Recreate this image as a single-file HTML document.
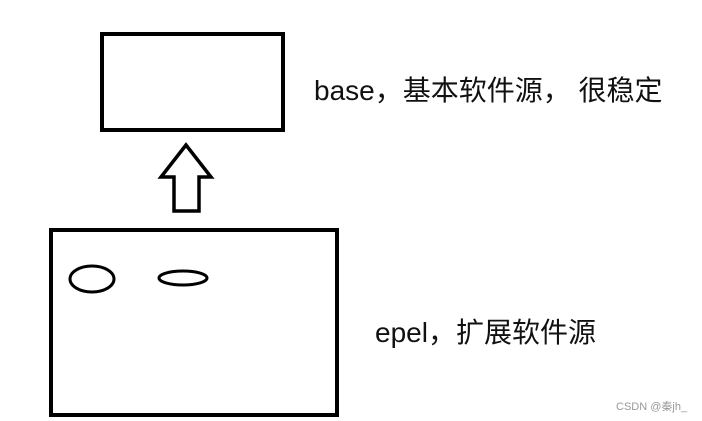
<!DOCTYPE html>
<html><head><meta charset="utf-8"><style>
html,body{margin:0;padding:0;background:#fff;}
body{width:702px;height:421px;overflow:hidden;position:relative;}
.t{position:absolute;font-family:"Liberation Sans","Noto Sans CJK SC",sans-serif;color:#111;white-space:nowrap;}
</style></head><body>
<svg width="702" height="421" style="position:absolute;left:0;top:0">
<rect x="102" y="34" width="181" height="96" fill="none" stroke="#000" stroke-width="4"/>
<polygon points="186,145 161,177 174,177 174,211 199,211 199,177 211,177" fill="none" stroke="#000" stroke-width="3.5" stroke-linejoin="miter"/>
<rect x="51" y="230" width="286" height="185" fill="none" stroke="#000" stroke-width="4"/>
<ellipse cx="92" cy="279" rx="22" ry="13" fill="none" stroke="#000" stroke-width="3"/>
<ellipse cx="183" cy="278" rx="24" ry="7" fill="none" stroke="#000" stroke-width="3"/>
</svg>
<div class="t" style="left:314px;top:69px;font-size:28px;">base，基本软件源， 很稳定</div>
<div class="t" style="left:375px;top:311px;font-size:28px;">epel，扩展软件源</div>
<div class="t" style="left:616px;top:398px;font-size:11px;color:#999;">CSDN @秦jh_</div>
</body></html>
